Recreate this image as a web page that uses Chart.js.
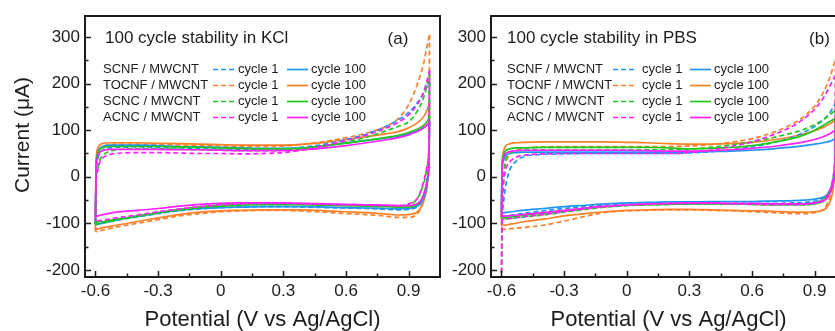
<!DOCTYPE html>
<html><head><meta charset="utf-8">
<script src="https://cdn.jsdelivr.net/npm/chart.js@4.4.1/dist/chart.umd.min.js"></script>
<style>
html,body{margin:0;padding:0;background:#fff;overflow:hidden;}
#wrap{position:relative;width:835px;height:331px;overflow:hidden;background:#fff;}
#c1{position:absolute;left:0;top:0;}
#c2{position:absolute;left:406px;top:0;}
</style></head><body>
<div id="wrap"><canvas id="c1" width="450" height="331"></canvas><canvas id="c2" width="450" height="331"></canvas></div>
<script>
// ---------- DATA ----------
const materials = ['SCNF / MWCNT', 'TOCNF / MWCNT', 'SCNC / MWCNT', 'ACNC / MWCNT'];
const cycleLabels = ['cycle 1', 'cycle 100'];
const panelTitles = ['100 cycle stability in KCl', '100 cycle stability in PBS'];
const panelTags = ['(a)', '(b)'];
const xTitle = 'Potential (V vs Ag/AgCl)';
const yTitle = 'Current (\u03bcA)';
const xTicks = [-0.6, -0.3, 0, 0.3, 0.6, 0.9];
const xMinorTicks = [-0.45, -0.15, 0.15, 0.45, 0.75];
const yTicks = [-200, -100, 0, 100, 200, 300];
const yMinorTicks = [-150, -50, 50, 150, 250];

// potential grids (V) for the forward (anodic) and reverse (cathodic) sweeps
const potFwd = [-0.6, -0.597, -0.59, -0.58, -0.56, -0.53, -0.5, -0.4, -0.3, -0.2, -0.1, 0, 0.1, 0.2, 0.3, 0.4, 0.5, 0.6, 0.7, 0.8, 0.85, 0.9, 0.94, 0.97, 0.99, 1.0];
const potRev = [1.0, 0.997, 0.99, 0.98, 0.96, 0.94, 0.9, 0.85, 0.8, 0.7, 0.6, 0.5, 0.4, 0.3, 0.2, 0.1, 0, -0.1, -0.2, -0.3, -0.4, -0.5, -0.55, -0.6];

// (a) KCl, currents in µA
const kclScnfC1Fwd = [-100, 0, 35, 50, 58, 62, 63, 64, 63, 62, 61, 60, 59, 59, 60, 64, 70, 80, 92, 110, 122, 138, 158, 178, 195, 203];
const kclScnfC1Rev = [203, 40, -5, -30, -55, -65, -70, -71, -70, -68, -67, -66, -65, -64, -64, -65, -66, -69, -73, -79, -86, -93, -97, -100];
const kclScnfC100Fwd = [-103, 20, 50, 60, 66, 68, 68, 68, 67, 65, 64, 63, 62, 61, 61, 62, 67, 73, 78, 84, 87, 92, 98, 104, 112, 118];
const kclScnfC100Rev = [118, 30, -10, -35, -55, -63, -68, -69, -68, -67, -66, -65, -64, -64, -64, -65, -66, -68, -72, -78, -85, -93, -98, -103];
const kclTocnfC1Fwd = [-118, 0, 40, 58, 66, 69, 70, 70, 69, 68, 67, 66, 65, 65, 66, 70, 76, 84, 94, 110, 125, 155, 197, 240, 285, 305];
const kclTocnfC1Rev = [305, 80, 0, -30, -65, -80, -87, -87, -85, -81, -79, -76, -74, -72, -72, -73, -75, -79, -84, -92, -100, -108, -113, -118];
const kclTocnfC100Fwd = [-113, 30, 60, 68, 72, 73, 73, 73, 72, 71, 70, 69, 68, 68, 68, 70, 74, 80, 86, 93, 97, 105, 115, 128, 145, 160];
const kclTocnfC100Rev = [160, 60, -13, -40, -65, -76, -81, -82, -80, -77, -75, -73, -71, -71, -71, -72, -73, -76, -81, -88, -96, -104, -108, -113];
const kclScncC1Fwd = [-102, -10, 15, 35, 48, 55, 58, 60, 60, 59, 58, 57, 56, 56, 57, 61, 67, 75, 85, 100, 108, 118, 140, 168, 200, 220];
const kclScncC1Rev = [220, 60, 25, 0, -30, -48, -60, -63, -63, -62, -61, -60, -59, -58, -58, -59, -61, -64, -70, -77, -85, -93, -98, -102];
const kclScncC100Fwd = [-98, 20, 48, 58, 63, 65, 65, 65, 65, 64, 63, 62, 61, 60, 60, 62, 66, 72, 78, 85, 89, 95, 102, 110, 120, 130];
const kclScncC100Rev = [130, 40, 0, -25, -50, -60, -65, -65, -64, -63, -62, -61, -60, -60, -60, -61, -63, -66, -71, -77, -84, -91, -95, -98];
const kclAcncC1Fwd = [-95, -10, 12, 30, 42, 48, 50, 52, 52, 51, 50, 50, 49, 50, 52, 58, 67, 78, 90, 106, 117, 133, 155, 180, 210, 228];
const kclAcncC1Rev = [228, 70, 28, 5, -28, -47, -58, -62, -62, -61, -60, -59, -58, -57, -57, -58, -60, -64, -69, -75, -82, -88, -92, -95];
const kclAcncC100Fwd = [-85, 15, 42, 52, 57, 59, 59, 59, 59, 58, 58, 57, 56, 56, 56, 58, 62, 67, 73, 80, 84, 90, 97, 105, 112, 118];
const kclAcncC100Rev = [118, 30, -5, -28, -50, -58, -62, -62, -61, -60, -59, -58, -57, -56, -56, -56, -57, -59, -63, -68, -72, -76, -80, -85];

// (b) PBS, currents in µA
const pbsScnfC1Fwd = [-88, -80, -55, -20, 15, 33, 42, 48, 49, 50, 50, 50, 50, 50, 51, 54, 58, 64, 73, 86, 96, 108, 122, 136, 150, 158];
const pbsScnfC1Rev = [158, 40, 0, -20, -38, -46, -52, -55, -56, -57, -57, -57, -57, -57, -57, -58, -59, -61, -64, -68, -73, -79, -82, -85];
const pbsScnfC100Fwd = [-78, 10, 35, 45, 50, 52, 53, 53, 53, 53, 53, 53, 53, 53, 53, 54, 55, 57, 60, 64, 67, 70, 73, 76, 80, 84];
const pbsScnfC100Rev = [84, 20, -10, -25, -38, -44, -48, -50, -51, -52, -53, -53, -53, -54, -54, -55, -56, -58, -61, -64, -68, -72, -75, -78];
const pbsTocnfC1Fwd = [-240, -100, -20, 25, 48, 57, 61, 64, 65, 65, 65, 65, 65, 65, 66, 69, 74, 82, 95, 115, 130, 152, 180, 210, 238, 252];
const pbsTocnfC1Rev = [252, 60, 0, -30, -58, -70, -77, -79, -79, -77, -75, -73, -72, -71, -71, -72, -73, -76, -85, -95, -104, -109, -111, -113];
const pbsTocnfC100Fwd = [-105, 20, 55, 66, 71, 73, 74, 75, 75, 75, 75, 74, 73, 71, 70, 70, 71, 74, 79, 87, 92, 99, 106, 113, 119, 123];
const pbsTocnfC100Rev = [123, 30, -20, -45, -65, -72, -75, -76, -76, -74, -73, -72, -71, -70, -70, -71, -72, -75, -79, -84, -91, -97, -101, -105];
const pbsScncC1Fwd = [-240, -80, 0, 35, 50, 55, 57, 58, 58, 58, 58, 58, 58, 58, 59, 63, 68, 75, 84, 95, 102, 112, 122, 132, 140, 145];
const pbsScncC1Rev = [145, 40, 0, -20, -38, -48, -56, -59, -60, -60, -59, -58, -58, -58, -59, -60, -62, -65, -70, -76, -82, -87, -89, -91];
const pbsScncC100Fwd = [-88, 20, 48, 56, 60, 62, 62, 63, 63, 63, 63, 63, 63, 62, 60, 61, 63, 67, 74, 83, 90, 100, 110, 118, 123, 126];
const pbsScncC100Rev = [126, 30, -5, -25, -45, -53, -58, -60, -60, -60, -59, -58, -58, -58, -59, -60, -61, -64, -68, -73, -78, -83, -86, -88];
const pbsAcncC1Fwd = [-240, -70, -10, 15, 32, 42, 46, 49, 50, 50, 50, 50, 50, 50, 52, 57, 65, 75, 90, 110, 125, 145, 168, 192, 210, 218];
const pbsAcncC1Rev = [218, 50, 5, -20, -40, -50, -56, -59, -60, -60, -59, -58, -57, -57, -58, -59, -61, -64, -69, -75, -81, -86, -89, -92];
const pbsAcncC100Fwd = [-85, 15, 42, 50, 54, 56, 57, 57, 57, 57, 57, 57, 56, 55, 55, 56, 58, 61, 65, 71, 75, 80, 86, 92, 97, 100];
const pbsAcncC100Rev = [100, 20, -10, -28, -45, -52, -56, -58, -58, -58, -57, -57, -56, -56, -57, -58, -60, -63, -67, -72, -77, -81, -83, -85];

// ---------- STYLE ----------
const colors = ['#1f95f5', '#ff7f27', '#1ec81e', '#ff1fff'];
const drawOrder = [2, 3, 1, 0];
const FONT = '"Liberation Sans", Arial, Helvetica, sans-serif';
const INK = '#1c1c1c';

const kclCurves = [
  [kclScnfC1Fwd, kclScnfC1Rev, kclScnfC100Fwd, kclScnfC100Rev],
  [kclTocnfC1Fwd, kclTocnfC1Rev, kclTocnfC100Fwd, kclTocnfC100Rev],
  [kclScncC1Fwd, kclScncC1Rev, kclScncC100Fwd, kclScncC100Rev],
  [kclAcncC1Fwd, kclAcncC1Rev, kclAcncC100Fwd, kclAcncC100Rev]
];
const pbsCurves = [
  [pbsScnfC1Fwd, pbsScnfC1Rev, pbsScnfC100Fwd, pbsScnfC100Rev],
  [pbsTocnfC1Fwd, pbsTocnfC1Rev, pbsTocnfC100Fwd, pbsTocnfC100Rev],
  [pbsScncC1Fwd, pbsScncC1Rev, pbsScncC100Fwd, pbsScncC100Rev],
  [pbsAcncC1Fwd, pbsAcncC1Rev, pbsAcncC100Fwd, pbsAcncC100Rev]
];

function pts(xs, ys) { return xs.map((x, i) => ({x: x, y: ys[i]})); }

function buildDatasets(curves) {
  const sets = [];
  curves.forEach((c, m) => {
    const parts = [[potFwd, c[0], true], [potRev, c[1], true], [potFwd, c[2], false], [potRev, c[3], false]];
    parts.forEach(([xs, ys, dashed]) => {
      sets.push({
        data: pts(xs, ys),
        showLine: true,
        borderColor: colors[m],
        backgroundColor: colors[m],
        borderWidth: 1.7,
        borderDash: dashed ? [5, 3] : [],
        pointRadius: 0,
        pointHoverRadius: 0,
        fill: false,
        tension: 0.4,
        cubicInterpolationMode: 'monotone',
        order: drawOrder[m] * 2 + (dashed ? 1 : 0)
      });
    });
  });
  return sets;
}

function decor(cfg) {
  return {
    id: 'decor',
    afterDraw(chart) {
      const {ctx, chartArea: a} = chart;
      const xs = chart.scales.x, ys = chart.scales.y;
      ctx.save();
      ctx.strokeStyle = INK;
      ctx.setLineDash([]);
      ctx.lineWidth = 1.5;
      ctx.beginPath();
      xTicks.forEach(v => { const p = Math.round(xs.getPixelForValue(v)) + 0.5; ctx.moveTo(p, a.bottom); ctx.lineTo(p, a.bottom - 6); });
      xMinorTicks.forEach(v => { const p = Math.round(xs.getPixelForValue(v)) + 0.5; ctx.moveTo(p, a.bottom); ctx.lineTo(p, a.bottom - 3.5); });
      yTicks.forEach(v => { const p = Math.round(ys.getPixelForValue(v)) + 0.5; ctx.moveTo(a.left, p); ctx.lineTo(a.left + 6, p); });
      yMinorTicks.forEach(v => { const p = Math.round(ys.getPixelForValue(v)) + 0.5; ctx.moveTo(a.left, p); ctx.lineTo(a.left + 3.5, p); });
      ctx.stroke();
      ctx.lineWidth = 2;
      ctx.strokeRect(a.left, a.top, a.right - a.left, a.bottom - a.top);

      ctx.fillStyle = INK;
      ctx.textBaseline = 'middle';
      ctx.textAlign = 'left';
      ctx.font = '17px ' + FONT;
      ctx.fillText(cfg.title, cfg.titleX, 38);
      ctx.textAlign = 'center';
      ctx.fillText(cfg.tag, cfg.tagX, 39);

      ctx.font = '13px ' + FONT;
      materials.forEach((m, i) => {
        const yy = 69.5 + i * 16;
        ctx.fillStyle = INK;
        ctx.textAlign = 'left';
        ctx.fillText(m, cfg.labX, yy);
        ctx.fillText(cycleLabels[0], cfg.c1TextX, yy);
        ctx.fillText(cycleLabels[1], cfg.c100TextX, yy);
        ctx.strokeStyle = colors[i];
        ctx.lineWidth = 1.7;
        ctx.setLineDash([5, 3]);
        ctx.beginPath(); ctx.moveTo(cfg.dashX0, yy); ctx.lineTo(cfg.dashX1, yy); ctx.stroke();
        ctx.setLineDash([]);
        ctx.beginPath(); ctx.moveTo(cfg.solX0, yy); ctx.lineTo(cfg.solX1, yy); ctx.stroke();
      });

      if (cfg.yTitle) {
        ctx.fillStyle = INK;
        ctx.font = '21px ' + FONT;
        ctx.translate(23, 135);
        ctx.rotate(-Math.PI / 2);
        ctx.textAlign = 'center';
        ctx.fillText(yTitle, 0, 0);
      }
      ctx.restore();
    }
  };
}

function makeChart(id, curves, cfg) {
  new Chart(document.getElementById(id), {
    type: 'scatter',
    data: {datasets: buildDatasets(curves)},
    options: {
      responsive: false,
      animation: false,
      events: [],
      layout: {padding: {left: 0, right: 10, top: 16, bottom: 0}},
      plugins: {legend: {display: false}, tooltip: {enabled: false}},
      scales: {
        x: {
          type: 'linear', position: 'bottom', min: -0.65, max: 1.05,
          afterBuildTicks: s => { s.ticks = xTicks.map(v => ({value: v})); },
          afterFit: s => { s.height = 54; },
          grid: {display: false, drawTicks: false, tickLength: 0},
          border: {display: false},
          ticks: {padding: 4, color: INK, font: {size: 17, family: FONT}, maxRotation: 0, autoSkip: false,
                  callback: v => (v === 0 ? '0' : Number(v).toFixed(1))},
          title: {display: true, text: xTitle, color: INK, font: {size: 22, family: FONT, lineHeight: 1}, padding: {top: 0, bottom: 0}}
        },
        y: {
          type: 'linear', position: 'left', min: -215, max: 345,
          afterBuildTicks: s => { s.ticks = yTicks.map(v => ({value: v})); },
          afterFit: s => { s.width = 85; },
          grid: {display: false, drawTicks: false, tickLength: 0},
          border: {display: false},
          ticks: {padding: 5, color: INK, font: {size: 17, family: FONT}, autoSkip: false,
                  callback: v => String(v)}
        }
      }
    },
    plugins: [decor(cfg)]
  });
}

makeChart('c1', kclCurves, {title: panelTitles[0], tag: panelTags[0], titleX: 105, tagX: 398,
  labX: 103, dashX0: 213, dashX1: 236, c1TextX: 238, solX0: 287, solX1: 308, c100TextX: 311, yTitle: true});
makeChart('c2', pbsCurves, {title: panelTitles[1], tag: panelTags[1], titleX: 101, tagX: 413.5,
  labX: 101, dashX0: 207, dashX1: 231, c1TextX: 236, solX0: 284, solX1: 305, c100TextX: 308, yTitle: false});
</script>
</body></html>
